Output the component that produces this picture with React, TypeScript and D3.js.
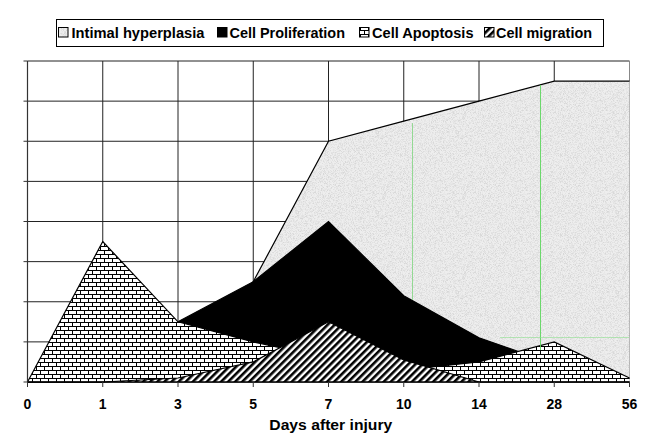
import React from "react";
import * as d3 from "d3";

const days = ["0", "1", "3", "5", "7", "10", "14", "28", "56"];
const intimal = [0, 0, 0.5, 2.5, 6, 6.5, 7, 7.5, 7.5];
const proliferation = [0, 0, 1.5, 2.5, 4, 2.15, 1.1, 0.45, 0];
const apoptosis = [0, 3.5, 1.5, 1.0, 0.6, 0.3, 0.5, 1.0, 0.1];
const migration = [0, 0, 0.1, 0.5, 1.5, 0.55, 0, 0, 0];
const yTicks = [0, 1, 2, 3, 4, 5, 6, 7, 8];
const legendLabels = ["Intimal hyperplasia", "Cell Proliferation", "Cell Apoptosis", "Cell migration"];

const W = 653, H = 443;
const M = { left: 27.5, right: 629.5, top: 61, bottom: 382 };
const FONT = "'Liberation Sans', Arial, Helvetica, sans-serif";

export default function App() {
  const x = d3.scalePoint<string>().domain(days).range([M.left, M.right]);
  const y = d3.scaleLinear().domain([0, 8]).range([M.bottom, M.top]);
  const area = (vals: number[]) =>
    d3.area<number>()
      .x((_, i) => x(days[i]) as number)
      .y0(y(0))
      .y1((d) => y(d))(vals) as string;
  const line = (vals: number[]) =>
    d3.line<number>()
      .x((_, i) => x(days[i]) as number)
      .y((d) => y(d))(vals) as string;

  const fills = ["url(#stipple)", "#000", "url(#brick)", "url(#diag)"];
  const series = [intimal, proliferation, apoptosis, migration];
  const legendX = [58, 217, 359, 484];
  const legendTextX = [71.5, 229.5, 372, 496];
  const legendW = [133, 115.5, 101.5, 96];

  return (
    <svg width={W} height={H} style={{ position: "absolute", left: 0, top: 0, background: "#fff" }}>
      <defs>
        <filter id="noise" x="0" y="0" width="100%" height="100%">
          <feTurbulence type="fractalNoise" baseFrequency="1.4" numOctaves="2" seed="3" result="t" />
          <feColorMatrix type="matrix" values="0 0 0 0 0.68  0 0 0 0 0.68  0 0 0 0 0.68  0 0 0 -3 1.75" />
        </filter>
        <pattern id="stipple" patternUnits="userSpaceOnUse" width="80" height="80">
          <rect width="80" height="80" fill="#eeeeee" />
          <rect width="80" height="80" filter="url(#noise)" />
        </pattern>
        <pattern id="brick" patternUnits="userSpaceOnUse" width="8" height="8" x="0" y="2">
          <rect width="8" height="8" fill="#fff" />
          <line x1="0" y1="0.5" x2="8" y2="0.5" stroke="#000" strokeWidth="1" />
          <line x1="0" y1="4.5" x2="8" y2="4.5" stroke="#000" strokeWidth="1" />
          <line x1="0.5" y1="0" x2="0.5" y2="4.5" stroke="#000" strokeWidth="1" />
          <line x1="4.5" y1="4.5" x2="4.5" y2="8" stroke="#000" strokeWidth="1" />
        </pattern>
        <pattern id="diag" patternUnits="userSpaceOnUse" width="5" height="5" patternTransform="rotate(45)">
          <rect width="5" height="5" fill="#fff" />
          <rect width="2.6" height="5" fill="#000" />
        </pattern>
      </defs>

      {/* gridlines */}
      {yTicks.map((t) => (
        <line key={"h" + t} x1={M.left} x2={M.right} y1={y(t)} y2={y(t)} stroke="#222" strokeWidth={1} />
      ))}
      {days.map((d) => (
        <line key={"v" + d} x1={x(d)} x2={x(d)} y1={M.top} y2={M.bottom} stroke="#222" strokeWidth={1} />
      ))}
      <line x1={M.right} x2={M.right} y1={M.top} y2={M.bottom} stroke="#888" />

      {/* areas */}
      {series.map((s, i) => (
        <g key={"s" + i}>
          <path d={area(s)} fill={fills[i]} />
          <path d={line(s)} fill="none" stroke="#000" strokeWidth={1.2} />
        </g>
      ))}

      {/* scan artefact lines */}
      <line x1={412.5} x2={412.5} y1={y(6.45)} y2={300} stroke="#7fd67f" strokeWidth={1} opacity={0.8} />
      <line x1={540.5} x2={540.5} y1={y(7.4)} y2={350} stroke="#5fd65f" strokeWidth={1} opacity={0.9} />
      <line x1={500} x2={629} y1={337.5} y2={337.5} stroke="#8fe08f" strokeWidth={1} opacity={0.6} />

      {/* axes */}
      <line x1={M.left} x2={M.left} y1={M.top} y2={M.bottom} stroke="#333" strokeWidth={1.2} />
      <line x1={M.left} x2={M.right} y1={M.bottom} y2={M.bottom} stroke="#000" strokeWidth={1.5} />
      {yTicks.map((t) => (
        <line key={"yt" + t} x1={M.left - 4} x2={M.left} y1={y(t)} y2={y(t)} stroke="#333" />
      ))}
      {days.map((d) => (
        <g key={"xt" + d}>
          <line x1={x(d)} x2={x(d)} y1={M.bottom} y2={M.bottom + 5} stroke="#333" />
          <text x={x(d)} y={408.5} textAnchor="middle" fontFamily={FONT} fontWeight="bold" fontSize={14} fill="#000">{d}</text>
        </g>
      ))}
      <text x={269.3} y={429.5} fontFamily={FONT} fontWeight="bold" fontSize={14.5} fill="#000"
        textLength={123} lengthAdjust="spacingAndGlyphs">Days after injury</text>

      {/* legend */}
      <rect x={56.5} y={19.5} width={547} height={27} fill="#fff" stroke="#000" strokeWidth={1} />
      {legendLabels.map((lab, i) => (
        <g key={"l" + i}>
          <rect x={legendX[i] + 0.5} y={27.5} width={9.5} height={9.5} fill={fills[i]} stroke="#000" strokeWidth={1} />
          <text x={legendTextX[i]} y={37.5} fontFamily={FONT} fontWeight="bold" fontSize={14.7} fill="#000"
            textLength={legendW[i]} lengthAdjust="spacingAndGlyphs">{lab}</text>
        </g>
      ))}
    </svg>
  );
}
